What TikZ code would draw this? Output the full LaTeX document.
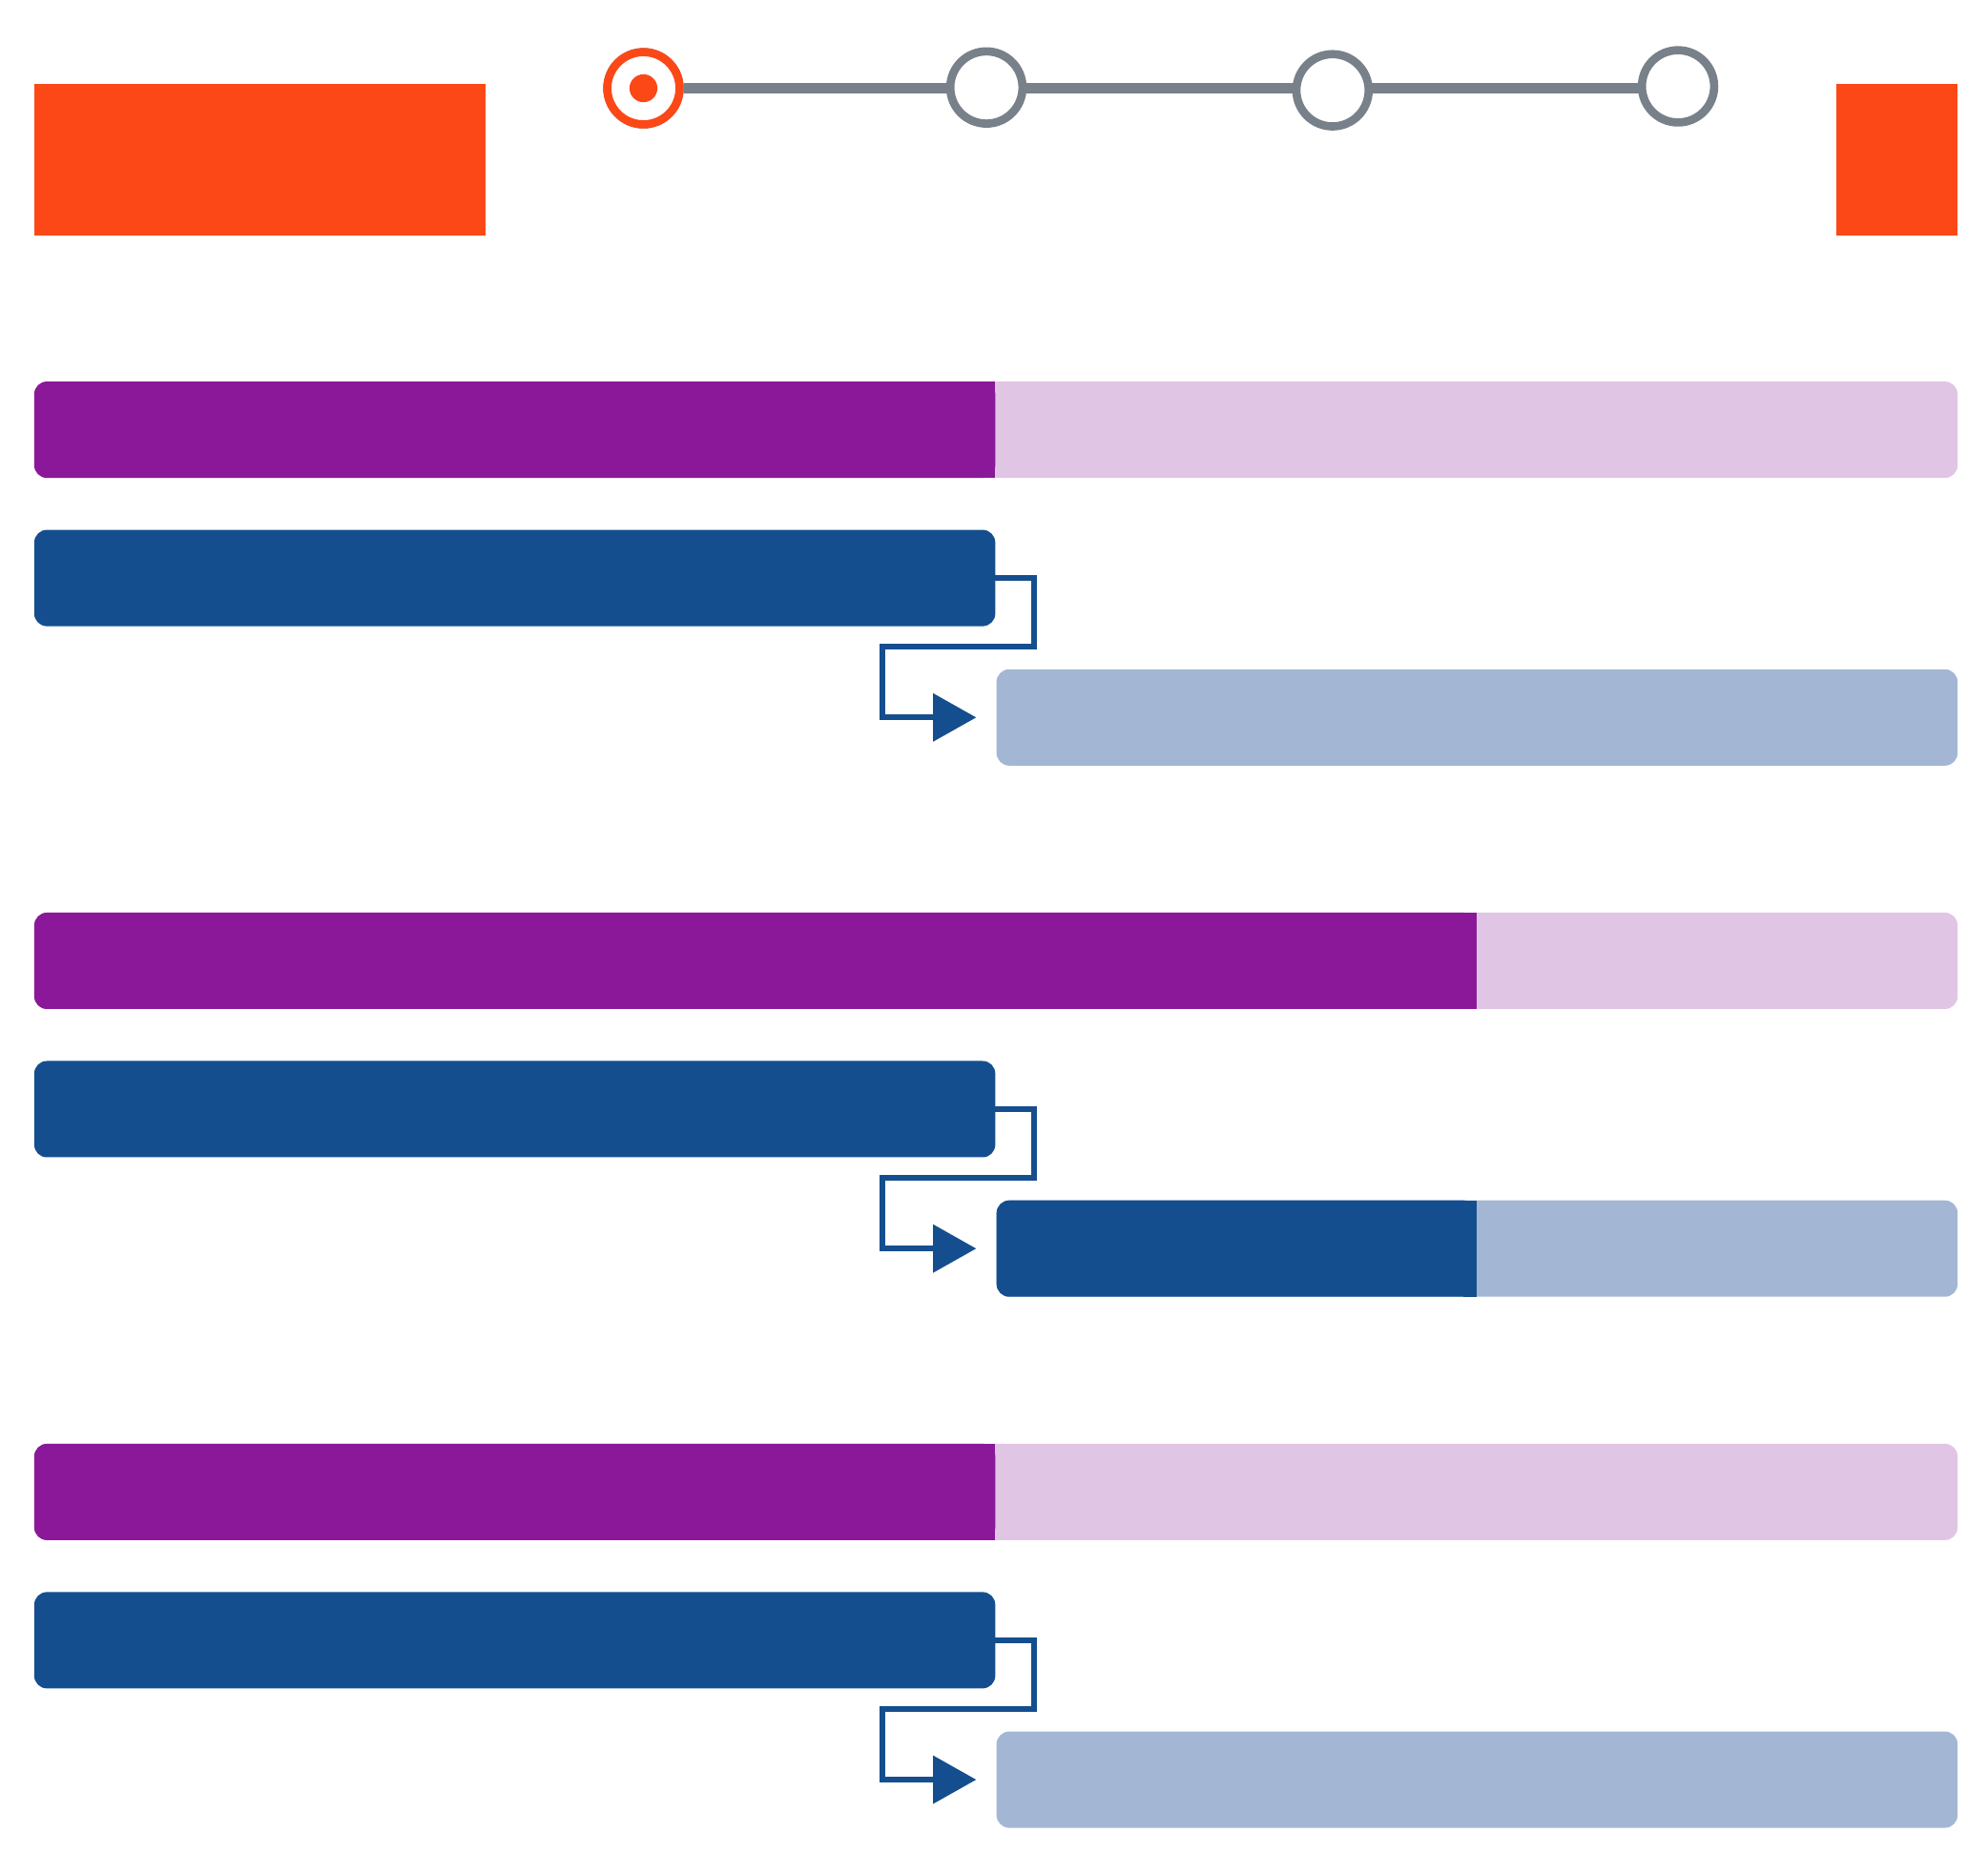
\documentclass[tikz,border=0pt]{standalone}
\usetikzlibrary{arrows.meta,calc,backgrounds}
\definecolor{flame}{RGB}{252,72,23}
\definecolor{slate}{RGB}{120,128,138}
\definecolor{plum}{RGB}{138,24,152}
\definecolor{lilac}{RGB}{225,197,228}
\definecolor{navy}{RGB}{21,78,142}
\definecolor{haze}{RGB}{163,183,212}
\begin{document}
\begin{tikzpicture}[x=1cm,y=-1cm,
        bar/.style={anchor=west,minimum height=0.76cm,inner sep=0pt,outer sep=0pt,rounded corners=0.1cm},
        stage/.style={circle,draw=slate,line width=0.065cm,fill=white,minimum size=0.57cm,inner sep=0pt},
        link/.style={draw=navy,line width=0.045cm,-{Triangle[length=0.34cm,width=0.37cm]}}]
        \useasboundingbox (0,0) rectangle (15.68,14.777);
        % header blocks
        \fill[flame] (0.27,0.66) rectangle (3.83,1.86);
        \fill[flame] (14.48,0.66) rectangle (15.44,1.86);
        % timeline
        \foreach \x/\yy[count=\i] in {5.075/0.696, 7.78/0.69, 10.51/0.712, 13.235/0.681}
        {\node[stage] (s\i) at (\x,\yy) {};
        }
        \begin{pgfonlayer}{background}
        \draw[slate,line width=0.08cm] (s1) -- (s1 -| s4);
        \end{pgfonlayer}
        \node[stage,draw=flame] at (s1) {};
        \fill[flame] (s1) circle (0.11);
        % bar groups
        \foreach \d/\sa/\sb[count=\g] in {0/7.85/0, 4.19/11.645/11.645, 8.38/7.85/0}
        {\node[bar,fill=lilac,minimum width=15.17cm] (p\g) at (0.27,3.39+\d) {};
        \fill[plum,rounded corners=0.1cm] (p\g.north west) rectangle ++(\sa-0.27,0.76);
        \fill[plum] ($(p\g.north west)+(\sa-0.37,0)$) rectangle ++(0.1,0.76);
        \node[bar,fill=navy,minimum width=7.58cm] (b\g) at (0.27,4.56+\d) {};
        \node[bar,fill=haze,minimum width=7.58cm] (l\g) at (7.86,5.66+\d) {};
        \ifdim\sb pt>1pt
        \fill[navy,rounded corners=0.1cm] (l\g.north west) rectangle ++(\sb-7.86,0.76);
        \fill[navy] ($(l\g.north west)+(\sb-7.96,0)$) rectangle ++(0.1,0.76);
        \fi
        \draw[link] (b\g.east) -- ++(0.305,0) |- ($(l\g.west)+(-0.90,-0.56)$) |- ([xshift=-0.16cm]l\g.west);
        }
\end{tikzpicture}
\end{document}
